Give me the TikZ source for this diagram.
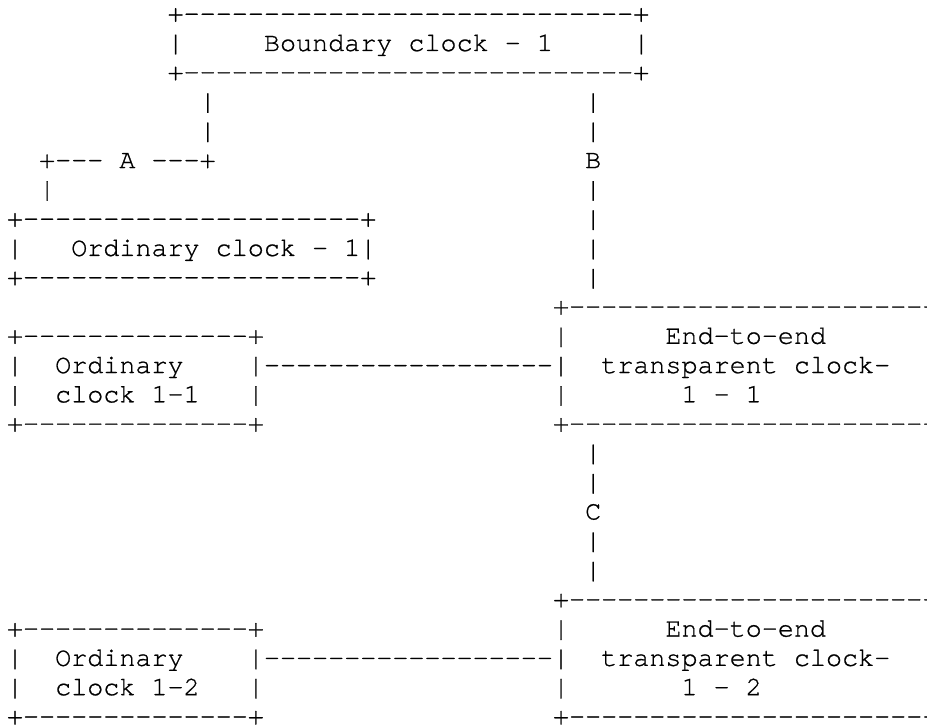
\documentclass[tikz,border=0pt]{standalone}
\usepackage{fontspec}
\newfontfamily\asciifont{TeX Gyre Cursor}[Ligatures=TeXOff,FakeBold=0.8]

\begin{document}
\begin{tikzpicture}[
            x=16.06pt,
            y=-29.28pt,
            ascii/.style={
                font=\asciifont\fontsize{26.76pt}{29.28pt}\selectfont,
                text=black,
                inner sep=0pt,
                outer sep=0pt,
                anchor=base west
            }
        ]
        \useasboundingbox (-7pt,21.7pt) rectangle (920pt,-702.3pt);

        % Boundary clock - 1
        \node[ascii] (bctop) at (10,0) {+----------------------------+};
        \node[ascii] (bcleft) at (10,1) {|};
        \node[ascii] (bclabel) at (16,1) {Boundary clock - 1};
        \node[ascii] (bcright) at (39,1) {|};
        \node[ascii] (bcbottom) at (10,2) {+----------------------------+};

        % Link A down to ordinary clock - 1
        \node[ascii] (la1) at (12,3) {|};
        \node[ascii] (la2) at (12,4) {|};
        \node[ascii] (la3) at (2,5) {+--- A ---+};
        \node[ascii] (la4) at (2,6) {|};

        % Link B down to transparent clock 1 - 1
        \node[ascii] (lb1) at (36,3) {|};
        \node[ascii] (lb2) at (36,4) {|};
        \node[ascii] (lb3) at (36,5) {B};
        \node[ascii] (lb4) at (36,6) {|};
        \node[ascii] (lb5) at (36,7) {|};
        \node[ascii] (lb6) at (36,8) {|};
        \node[ascii] (lb7) at (36,9) {|};

        % Ordinary clock - 1
        \node[ascii] (oc1top) at (0,7) {+---------------------+};
        \node[ascii] (oc1left) at (0,8) {|};
        \node[ascii] (oc1label) at (4,8) {Ordinary clock - 1|};
        \node[ascii] (oc1bottom) at (0,9) {+---------------------+};

        % Ordinary clock 1-1 and its link
        \node[ascii] (oc11top) at (0,11) {+--------------+};
        \node[ascii] (oc11left) at (0,12) {|};
        \node[ascii] (oc11label) at (3,12) {Ordinary};
        \node[ascii] (oc11link) at (15,12) {|------------------|};
        \node[ascii] (oc11left2) at (0,13) {|};
        \node[ascii] (oc11label2) at (3,13) {clock 1-1};
        \node[ascii] (oc11right) at (15,13) {|};
        \node[ascii] (oc11bottom) at (0,14) {+--------------+};

        % End-to-end transparent clock 1 - 1
        \node[ascii] (tc11top) at (34,10) {+------------------------};
        \node[ascii] (tc11left) at (34,11) {|};
        \node[ascii] (tc11label) at (41,11) {End-to-end};
        \node[ascii] (tc11label2) at (37,12) {transparent clock-};
        \node[ascii] (tc11left3) at (34,13) {|};
        \node[ascii] (tc11label3) at (42,13) {1 - 1};
        \node[ascii] (tc11bottom) at (34,14) {+------------------------};

        % Link C between the transparent clocks
        \node[ascii] (lc1) at (36,15) {|};
        \node[ascii] (lc2) at (36,16) {|};
        \node[ascii] (lc3) at (36,17) {C};
        \node[ascii] (lc4) at (36,18) {|};
        \node[ascii] (lc5) at (36,19) {|};

        % Ordinary clock 1-2 and its link
        \node[ascii] (oc12top) at (0,21) {+--------------+};
        \node[ascii] (oc12left) at (0,22) {|};
        \node[ascii] (oc12label) at (3,22) {Ordinary};
        \node[ascii] (oc12link) at (15,22) {|------------------|};
        \node[ascii] (oc12left2) at (0,23) {|};
        \node[ascii] (oc12label2) at (3,23) {clock 1-2};
        \node[ascii] (oc12right) at (15,23) {|};
        \node[ascii] (oc12bottom) at (0,24) {+--------------+};

        % End-to-end transparent clock 1 - 2
        \node[ascii] (tc12top) at (34,20) {+------------------------};
        \node[ascii] (tc12left) at (34,21) {|};
        \node[ascii] (tc12label) at (41,21) {End-to-end};
        \node[ascii] (tc12label2) at (37,22) {transparent clock-};
        \node[ascii] (tc12left3) at (34,23) {|};
        \node[ascii] (tc12label3) at (42,23) {1 - 2};
        \node[ascii] (tc12bottom) at (34,24) {+------------------------};

        \end{tikzpicture}
\end{document}
